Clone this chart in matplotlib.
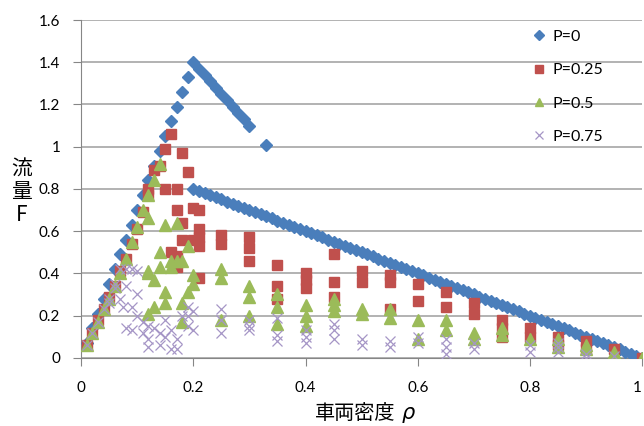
import matplotlib
matplotlib.use("Agg")
import matplotlib.pyplot as plt

# P=0 (決定論的)
p0_rho = [0.01, 0.02, 0.03, 0.04, 0.05, 0.06, 0.07, 0.08, 0.09, 0.10,
          0.11, 0.12, 0.13, 0.14, 0.15, 0.16, 0.17, 0.18, 0.19, 0.20,
          0.21, 0.22, 0.23, 0.24, 0.25, 0.26, 0.27, 0.28, 0.29, 0.30, 0.33,
          0.20, 0.21, 0.22, 0.23, 0.24, 0.25, 0.26, 0.27, 0.28, 0.29,
          0.30, 0.31, 0.32, 0.33, 0.34, 0.35, 0.36, 0.37, 0.38, 0.39,
          0.40, 0.41, 0.42, 0.43, 0.44, 0.45, 0.46, 0.47, 0.48, 0.49,
          0.50, 0.51, 0.52, 0.53, 0.54, 0.55, 0.56, 0.57, 0.58, 0.59,
          0.60, 0.61, 0.62, 0.63, 0.64, 0.65, 0.66, 0.67, 0.68, 0.69,
          0.70, 0.71, 0.72, 0.73, 0.74, 0.75, 0.76, 0.77, 0.78, 0.79,
          0.80, 0.81, 0.82, 0.83, 0.84, 0.85, 0.86, 0.87, 0.88, 0.89,
          0.90, 0.91, 0.92, 0.93, 0.94, 0.95, 0.96, 0.97, 0.98, 0.99, 1.00]
p0_flow = [0.07, 0.14, 0.21, 0.28, 0.35, 0.42, 0.49, 0.56, 0.63, 0.70,
           0.77, 0.84, 0.91, 0.98, 1.05, 1.12, 1.19, 1.26, 1.33, 1.40,
           1.37, 1.34, 1.31, 1.28, 1.25, 1.22, 1.19, 1.16, 1.13, 1.10, 1.01,
           0.80, 0.79, 0.78, 0.77, 0.76, 0.75, 0.74, 0.73, 0.72, 0.71,
           0.70, 0.69, 0.68, 0.67, 0.66, 0.65, 0.64, 0.63, 0.62, 0.61,
           0.60, 0.59, 0.58, 0.57, 0.56, 0.55, 0.54, 0.53, 0.52, 0.51,
           0.50, 0.49, 0.48, 0.47, 0.46, 0.45, 0.44, 0.43, 0.42, 0.41,
           0.40, 0.39, 0.38, 0.37, 0.36, 0.35, 0.34, 0.33, 0.32, 0.31,
           0.30, 0.29, 0.28, 0.27, 0.26, 0.25, 0.24, 0.23, 0.22, 0.21,
           0.20, 0.19, 0.18, 0.17, 0.16, 0.15, 0.14, 0.13, 0.12, 0.11,
           0.10, 0.09, 0.08, 0.07, 0.06, 0.05, 0.04, 0.03, 0.02, 0.01, 0.00]

# P=0.25
p25_rho = [0.01, 0.02, 0.03, 0.04, 0.05, 0.06, 0.07, 0.08, 0.09, 0.10, 0.11, 0.12,
           0.12, 0.13, 0.14, 0.15, 0.16, 0.18, 0.19, 0.15, 0.17, 0.17, 0.20, 0.21,
           0.18, 0.21, 0.21, 0.20, 0.18, 0.21, 0.16, 0.17, 0.17, 0.21,
           0.25, 0.25, 0.30, 0.30, 0.30, 0.35, 0.35, 0.35, 0.40, 0.40, 0.40,
           0.45, 0.45, 0.45, 0.50, 0.50, 0.55, 0.55, 0.55, 0.60, 0.60,
           0.65, 0.65, 0.70, 0.70, 0.75, 0.75, 0.75, 0.80, 0.80, 0.85, 0.85,
           0.90, 0.90, 0.95, 1.00]
p25_flow = [0.06, 0.12, 0.18, 0.23, 0.29, 0.34, 0.41, 0.47, 0.54, 0.61, 0.69, 0.77,
            0.80, 0.89, 0.91, 0.99, 1.06, 0.97, 0.88, 0.80, 0.80, 0.70, 0.71, 0.70,
            0.64, 0.61, 0.57, 0.56, 0.56, 0.53, 0.50, 0.48, 0.43, 0.38,
            0.58, 0.54, 0.57, 0.52, 0.46, 0.44, 0.34, 0.28, 0.40, 0.37, 0.33,
            0.49, 0.36, 0.29, 0.41, 0.36, 0.39, 0.36, 0.23, 0.35, 0.27,
            0.31, 0.24, 0.26, 0.21, 0.18, 0.14, 0.10, 0.14, 0.10, 0.10, 0.06,
            0.08, 0.04, 0.04, 0.00]

# P=0.5
p50_rho = [0.01, 0.02, 0.03, 0.04, 0.05, 0.06, 0.07, 0.08, 0.09, 0.10, 0.11, 0.12, 0.13, 0.14,
           0.12, 0.15, 0.17, 0.14, 0.12, 0.14, 0.16, 0.16, 0.17, 0.18, 0.19, 0.13,
           0.20, 0.20, 0.19, 0.15, 0.15, 0.13, 0.12, 0.18, 0.18, 0.12,
           0.25, 0.25, 0.25, 0.30, 0.30, 0.30, 0.35, 0.35, 0.35, 0.40, 0.40, 0.40,
           0.45, 0.45, 0.45, 0.50, 0.50, 0.55, 0.55, 0.60, 0.60, 0.65, 0.65,
           0.70, 0.70, 0.75, 0.75, 0.80, 0.85, 0.85, 0.90, 0.90, 0.95, 1.00]
p50_flow = [0.06, 0.12, 0.17, 0.23, 0.28, 0.34, 0.40, 0.47, 0.55, 0.62, 0.70, 0.77, 0.84, 0.92,
            0.66, 0.63, 0.64, 0.50, 0.40, 0.43, 0.43, 0.46, 0.46, 0.46, 0.53, 0.37,
            0.39, 0.35, 0.31, 0.31, 0.26, 0.24, 0.21, 0.26, 0.17, 0.41,
            0.42, 0.38, 0.18, 0.34, 0.29, 0.20, 0.30, 0.24, 0.16, 0.25, 0.20, 0.15,
            0.28, 0.25, 0.22, 0.23, 0.21, 0.23, 0.19, 0.18, 0.09, 0.18, 0.13,
            0.12, 0.09, 0.14, 0.11, 0.09, 0.09, 0.05, 0.06, 0.04, 0.03, 0.00]

# P=0.75
p75_rho = [0.01, 0.02, 0.03, 0.04, 0.05, 0.06, 0.07,
           0.08, 0.09, 0.10, 0.08, 0.10, 0.07, 0.075, 0.09, 0.10, 0.08, 0.09,
           0.12, 0.12, 0.11, 0.12, 0.14, 0.16, 0.14, 0.15, 0.16, 0.17, 0.18,
           0.19, 0.19, 0.20, 0.19, 0.06, 0.05, 0.11, 0.13, 0.17, 0.20, 0.15,
           0.25, 0.25, 0.25, 0.30, 0.30, 0.30, 0.35, 0.35, 0.35, 0.40, 0.40, 0.40,
           0.45, 0.45, 0.45, 0.50, 0.50, 0.55, 0.55, 0.60, 0.60, 0.65, 0.65, 0.65,
           0.70, 0.70, 0.80, 0.80, 0.85, 0.85, 0.85, 0.90, 0.90, 0.95]
p75_flow = [0.06, 0.12, 0.17, 0.23, 0.28, 0.33, 0.42,
            0.42, 0.42, 0.41, 0.34, 0.30, 0.28, 0.24, 0.24, 0.20, 0.14, 0.13,
            0.15, 0.09, 0.12, 0.05, 0.06, 0.04, 0.12, 0.18, 0.13, 0.09, 0.20,
            0.24, 0.15, 0.22, 0.20, 0.35, 0.26, 0.17, 0.14, 0.04, 0.13, 0.10,
            0.23, 0.18, 0.12, 0.18, 0.15, 0.13, 0.19, 0.11, 0.08, 0.13, 0.10, 0.07,
            0.16, 0.13, 0.09, 0.09, 0.06, 0.08, 0.05, 0.10, 0.07, 0.09, 0.05, 0.02,
            0.07, 0.04, 0.06, 0.03, 0.07, 0.05, 0.03, 0.02, 0.00, 0.01]

y_ticks = [0, 0.2, 0.4, 0.6, 0.8, 1, 1.2, 1.4, 1.6]
y_labels = ["0", "0.2", "0.4", "0.6", "0.8", "1", "1.2", "1.4", "1.6"]
x_ticks = [0, 0.2, 0.4, 0.6, 0.8, 1]
x_labels = ["0", "0.2", "0.4", "0.6", "0.8", "1"]

cjk = ["Noto Sans CJK JP", "DejaVu Sans"]
num_font = "Lato"

fig = plt.figure(figsize=(6.44, 4.26), dpi=100)
ax = fig.add_axes([0.126, 0.160, 0.871, 0.793])

ax.plot(p0_rho, p0_flow, linestyle="none", marker="D", ms=6.2,
        color="#4A7EBB", mec="#4A7EBB", label="P=0", zorder=3)
ax.plot(p25_rho, p25_flow, linestyle="none", marker="s", ms=7,
        color="#C0504D", mec="#C0504D", label="P=0.25", zorder=4)
ax.plot(p50_rho, p50_flow, linestyle="none", marker="^", ms=8,
        color="#9BBB59", mec="#9BBB59", label="P=0.5", zorder=5)
ax.plot(p75_rho, p75_flow, linestyle="none", marker="x", ms=7.5, mew=0.9,
        color="#A595C6", label="P=0.75", zorder=6)

ax.set_xlim(0, 1)
ax.set_ylim(0, 1.6)
ax.set_yticks(y_ticks)
ax.set_yticklabels(y_labels, fontname=num_font, fontsize=11)
ax.set_xticks(x_ticks)
ax.set_xticklabels(x_labels, fontname=num_font, fontsize=11)
ax.get_xticklabels()[-1].set_horizontalalignment("right")
ax.tick_params(axis="y", direction="out", length=6, color="#868686", pad=9)
ax.tick_params(axis="x", direction="out", length=6, color="#868686", pad=11)

ax.grid(axis="y", color="#A6A6A6", linewidth=1.2)
ax.set_axisbelow(True)
for s in ["top", "right"]:
    ax.spines[s].set_visible(False)
ax.spines["left"].set_color("#868686")
ax.spines["bottom"].set_color("#868686")

# 軸ラベル
fig.text(0.034, 0.55, "流\n量\nF", family=cjk, fontsize=15,
         ha="center", va="center", linespacing=1.05)
fig.text(0.489, 0.030, "車両密度", family=cjk, fontsize=14.5,
         ha="left", va="center")
fig.text(0.624, 0.030, "ρ", family=["DejaVu Sans"], style="italic",
         fontsize=15, ha="left", va="center")

ax.legend(loc="upper left", bbox_to_anchor=(0.815, 0.945),
          bbox_transform=fig.transFigure, frameon=False,
          prop={"family": num_font, "size": 11.5}, markerscale=0.75,
          handlelength=1.0, handletextpad=0.3, labelspacing=1.2,
          borderaxespad=0)

fig.savefig("out.png", dpi=100)
